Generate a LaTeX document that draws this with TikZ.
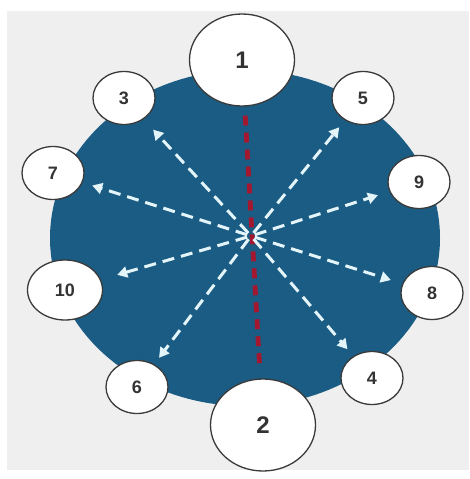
\documentclass[tikz,border=0pt]{standalone}
\usepackage{fontspec}
\setmainfont{Liberation Sans}
\usetikzlibrary{arrows.meta,shapes.geometric}
\definecolor{discblue}{HTML}{1B5C84}
\definecolor{bggray}{HTML}{EFEFEF}
\definecolor{pathred}{HTML}{A3182F}
\definecolor{rimgray}{HTML}{3A3A3A}
\definecolor{raywhite}{HTML}{E4F5FA}

\begin{document}
\begin{tikzpicture}[x=1pt, y=-1pt,
    seat/.style={shape=ellipse, draw=rimgray, line width=1.3pt, fill=white, inner sep=0pt,
        minimum width=62pt, minimum height=53pt, text=black!80,
        font=\bfseries\fontsize{18}{18}\selectfont},
    bigseat/.style={seat, minimum width=105pt, minimum height=92pt,
        font=\bfseries\fontsize{24}{24}\selectfont},
    ray/.style={raywhite, line width=3pt, dash pattern=on 12pt off 7pt,
        -{Triangle[length=10pt,width=11pt]}, shorten <=4pt},
    redpath/.style={pathred, line width=4.8pt, dash pattern=on 10pt off 7pt,
        shorten <=9pt, shorten >=12pt}]
    \useasboundingbox (0,0) rectangle (469,479);

    % backdrop and disc
    \fill[white] (0,0) rectangle (469,479);
    \fill[bggray] (7,11) rectangle (469,470);
    \fill[discblue] (245,238) ellipse [x radius=195pt, y radius=168pt];

    % seats round the disc
    \node[bigseat] (n1) at (242,60) {1};
    \node[bigseat] (n2) at (263,425) {2};
    \node[seat] (n3) at (124,98) {3};
    \node[seat] (n5) at (363,98) {5};
    \node[seat] (n7) at (53,173) {7};
    \node[seat] (n9) at (419,182) {9};
    \node[seat, minimum width=75pt, minimum height=60pt] (n10) at (65,290) {10};
    \node[seat] (n8) at (432,293) {8};
    \node[seat] (n6) at (137,387) {6};
    \node[seat] (n4) at (372,378) {4};

    % path from 1 to 2
    \draw[redpath] (n1) -- (n2);

    % rays from the middle
    \coordinate (hub) at (251,236);
    \foreach \n/\gap in {3/14pt, 5/9pt, 7/10pt, 9/12pt, 10/17pt, 8/12pt, 6/8pt, 4/9pt}
        \draw[ray, shorten >=\gap] (hub) -- (n\n);
\end{tikzpicture}
\end{document}
